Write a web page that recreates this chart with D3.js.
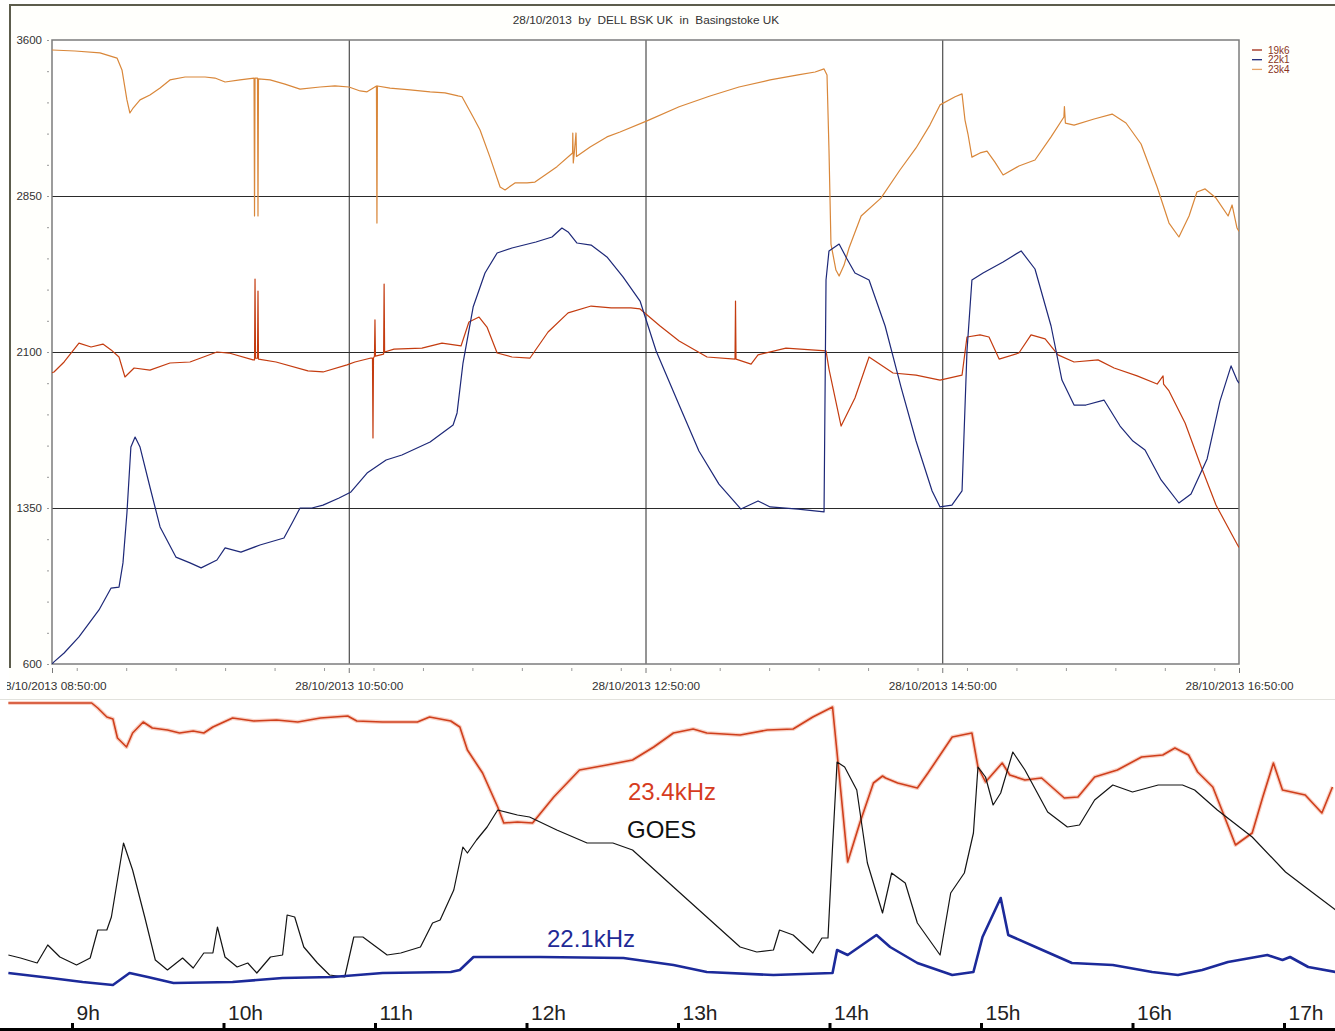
<!DOCTYPE html>
<html>
<head>
<meta charset="utf-8">
<script src="https://cdn.jsdelivr.net/npm/d3@7"></script>
<style>
  body { margin: 0; background: #fff; overflow: hidden; }
  text { font-family: "Liberation Sans", Arial, sans-serif; }
</style>
</head>
<body>
<svg id="chart" width="1335" height="1031"></svg>
<script>
// top panel: minutes after 28/10/2013 08:50:00 , signal level
var startTime = new Date(2013, 9, 28, 8, 50, 0);
var axisLabelTimes = ["08:50", "10:50", "12:50", "14:50", "16:50"];
var levelTicks = [600, 1350, 2100, 2850, 3600];
var seriesNames = ["19k6", "22k1", "23k4"];

var s19k6 = [[0,2000],[0.8,2004],[4.9,2052],[10.9,2143],[15.8,2124],[20.6,2138],[23.9,2110],[27.1,2076],[29.5,1980],
  [33.2,2023],[39.6,2013],[47.7,2047],[55.8,2052],[66.7,2100],[71.6,2095],[81.3,2062],
  [81.9,2062],[82.1,2451],[82.3,2070],[83.1,2070],[83.3,2393],[83.5,2066],
  [90.6,2052],[103.5,2009],[109.6,2004],[119.3,2038],[122.5,2052],[129.0,2071],[129.6,2071],[129.8,1687],[130.0,2071],
  [130.4,2080],[130.6,2254],[130.8,2080],[134.1,2090],[134.3,2427],[134.5,2100],[138.3,2114],[149.6,2119],[157.7,2143],
  [165.4,2129],[168.6,2244],[172.7,2268],[175.9,2220],[180.0,2095],[186.0,2076],[193.3,2071],[200.6,2196],[208.7,2288],
  [218.0,2321],[226.1,2312],[234.1,2312],[237.8,2307],[245.9,2225],[253.6,2153],[264.9,2076],[276.2,2066],[276.4,2345],
  [276.6,2066],[282.7,2042],[285.5,2086],[296.8,2119],[313.0,2105],[314.2,2018],[319.1,1744],[324.7,1879],[330.4,2076],
  [340.1,1999],[349.4,1989],[359.1,1965],[368.0,1989],[370.0,2172],[375.3,2182],[378.9,2172],[383.0,2066],[391.0,2095],
  [395.9,2182],[401.6,2163],[406.8,2086],[413.3,2052],[423.0,2062],[429.5,2023],[438.8,1985],[446.9,1946],[449.3,1985],
  [449.5,1946],[451.7,1913],[458.2,1759],[464.6,1552],[470.7,1364],[479.2,1177],[480,1160]];

var s22k1 = [[0,600],[0.8,610],[4.9,653],[10.9,730],[19.0,860],[23.9,965],[27.1,970],[28.7,1086],[30.3,1326],[31.9,1643],
  [33.6,1691],[35.6,1643],[39.6,1451],[43.7,1259],[50.1,1114],[55.8,1086],[60.3,1062],[66.7,1100],[70.0,1158],[76.4,1138],
  [84.1,1172],[93.8,1206],[97.1,1278],[100.3,1350],[105.1,1350],[109.6,1364],[116.1,1398],[120.9,1427],[127.4,1518],
  [135.1,1581],[141.5,1605],[152.9,1667],[162.2,1749],[163.8,1807],[166.2,2047],[170.3,2316],[175.1,2480],[180.0,2576],
  [186.0,2600],[195.7,2629],[202.2,2653],[206.2,2696],[208.7,2677],[212.3,2624],[218.0,2614],[224.4,2557],[230.9,2461],
  [237.8,2345],[244.3,2105],[253.6,1845],[261.6,1624],[269.7,1465],[278.6,1345],[285.5,1384],[290.4,1355],[301.7,1345],
  [312.2,1331],[313.0,2446],[314.2,2586],[318.3,2619],[321.5,2547],[324.7,2480],[330.4,2446],[336.9,2225],[343.3,1932],
  [349.4,1672],[355.9,1432],[359.1,1355],[363.9,1364],[368.0,1432],[370.0,2105],[372.0,2446],[376.5,2480],[384.6,2533],
  [391.9,2586],[397.5,2499],[404.0,2225],[408.4,1965],[413.3,1845],[418.1,1845],[425.4,1869],[431.9,1744],[437.1,1672],
  [442.0,1629],[448.5,1485],[455.7,1374],[460.6,1417],[467.1,1586],[472.3,1864],[476.8,2033],[479.2,1965],[480,1950]];

var s23k4 = [[0,3552],[9.3,3547],[19.4,3538],[26.3,3513],[28.3,3456],[30.3,3312],[31.5,3249],[32.8,3273],[35.6,3312],
  [39.6,3336],[43.7,3369],[47.7,3408],[53.8,3422],[61.9,3422],[65.9,3417],[70.0,3398],[76.0,3408],[81.7,3417],
  [81.9,2754],[82.1,3417],[83.1,3417],[83.3,2754],[83.5,3413],
  [88.2,3408],[94.2,3388],[100.3,3364],[108.4,3374],[114.4,3379],[120.1,3374],[124.6,3355],[127.4,3351],[131.2,3379],
  [131.4,2720],[131.6,3379],[136.7,3369],[144.8,3360],[152.9,3351],[158.9,3346],[164.2,3331],[165.8,3327],[170.3,3230],
  [173.1,3167],[177.1,3037],[181.2,2893],[183.2,2879],[187.2,2913],[192.1,2913],[195.3,2917],[199.4,2951],[204.2,2991],
  [210.5,3057],[210.6,3153],[210.8,3009],[211.2,3057],[211.9,3153],[212.1,3040],[217.6,3086],[224.4,3134],[229.7,3158],
  [240.6,3211],[253.6,3279],[266.1,3331],[277.8,3374],[290.4,3408],[301.7,3432],[308.6,3446],[312.2,3461],[313.4,3432],
  [314.2,3071],[315.0,2619],[317.0,2494],[318.3,2465],[320.3,2518],[322.3,2600],[327.2,2754],[335.2,2840],[342.9,2975],
  [349.4,3081],[355.0,3191],[359.1,3288],[365.2,3327],[368.0,3341],[369.2,3215],[370.4,3148],[372.0,3037],[375.3,3057],
  [378.1,3066],[381.3,3013],[384.6,2951],[391.0,2994],[397.5,3023],[404.0,3134],[409.2,3230],[409.4,3280],[409.8,3200],
  [413.3,3191],[421.4,3220],[428.7,3244],[434.3,3201],[440.4,3100],[446.9,2893],[451.7,2720],[455.7,2653],[459.8,2754],
  [463.0,2869],[466.3,2884],[470.7,2840],[475.6,2754],[477.2,2807],[479.2,2696],[480,2680]];

// bottom panel: hour of day , relative level (no scale in the picture)
var hourTicks = [9, 10, 11, 12, 13, 14, 15, 16, 17];

var goes = [[8.58,73],[8.66,70],[8.77,65],[8.84,83],[8.92,71],[9.03,63],[9.12,70],[9.17,98],[9.23,98],[9.26,111],
  [9.34,185],[9.40,158],[9.48,111],[9.55,68],[9.63,58],[9.73,70],[9.80,60],[9.87,75],[9.93,75],[9.96,101],[10.01,71],
  [10.09,61],[10.16,65],[10.22,55],[10.31,71],[10.39,73],[10.42,113],[10.47,111],[10.53,81],[10.62,65],[10.70,53],
  [10.80,51],[10.86,91],[10.92,91],[11.08,73],[11.17,75],[11.30,81],[11.38,105],[11.43,108],[11.52,138],[11.58,181],
  [11.61,175],[11.67,188],[11.74,201],[11.81,218],[11.94,213],[12.02,211],[12.20,198],[12.40,185],[12.57,185],[12.70,178],
  [12.97,141],[13.19,111],[13.41,81],[13.52,76],[13.63,78],[13.67,98],[13.76,93],[13.89,75],[13.95,90],[13.99,90],
  [14.02,181],[14.05,266],[14.10,261],[14.18,238],[14.25,165],[14.35,115],[14.41,155],[14.50,145],[14.58,105],[14.73,73],
  [14.80,135],[14.89,155],[14.95,195],[14.98,261],[15.03,251],[15.08,223],[15.13,235],[15.21,276],[15.29,258],[15.44,216],
  [15.57,201],[15.65,203],[15.75,228],[15.87,243],[16.00,236],[16.17,243],[16.33,243],[16.41,238],[16.56,218],[16.79,191],
  [17.01,156],[17.14,141],[17.34,118]];

var khz234 = [[8.58,325],[9.13,325],[9.17,320],[9.23,311],[9.27,309],[9.30,290],[9.36,281],[9.40,295],[9.47,306],
  [9.53,300],[9.63,298],[9.71,295],[9.80,297],[9.87,295],[9.93,301],[10.06,310],[10.20,307],[10.35,308],[10.49,306],
  [10.64,310],[10.82,312],[10.88,307],[11.05,306],[11.28,306],[11.36,311],[11.50,307],[11.56,301],[11.61,278],[11.71,255],
  [11.81,221],[11.85,205],[11.94,206],[12.04,205],[12.18,231],[12.35,258],[12.53,263],[12.70,268],[12.84,281],[12.97,295],
  [13.10,299],[13.19,295],[13.41,293],[13.59,298],[13.76,299],[13.89,311],[14.02,321],[14.05,275],[14.12,166],[14.20,205],
  [14.29,245],[14.35,252],[14.37,250],[14.45,245],[14.58,240],[14.65,255],[14.81,291],[14.94,295],[14.98,261],[15.03,246],
  [15.14,265],[15.19,253],[15.29,248],[15.40,250],[15.55,230],[15.64,231],[15.75,251],[15.90,258],[16.06,271],[16.20,273],
  [16.28,280],[16.37,273],[16.43,256],[16.53,241],[16.59,218],[16.68,183],[16.79,195],[16.86,231],[16.93,265],[16.99,238],
  [17.14,233],[17.25,215],[17.32,241]];

var khz221 = [[8.58,55],[8.86,50],[9.07,46],[9.27,43],[9.38,55],[9.50,51],[9.67,45],[10.06,46],[10.39,50],[10.72,51],
  [11.05,55],[11.50,56],[11.56,58],[11.65,71],[12.09,71],[12.64,70],[12.97,63],[13.19,56],[13.63,53],[14.02,55],[14.05,78],
  [14.12,73],[14.31,93],[14.40,81],[14.58,65],[14.81,53],[14.95,56],[15.01,91],[15.13,130],[15.18,93],[15.36,81],[15.60,65],
  [15.87,63],[16.13,56],[16.30,53],[16.46,58],[16.63,66],[16.89,73],[16.99,68],[17.04,71],[17.16,61],[17.34,56]];

var d3 = window.d3;
var svg = d3.select("#chart");

var margin = { top: 40, left: 52 };
var width = 1187;
var height = 624;
var labelFont = "'Liberation Sans', Arial, sans-serif";

var toDate = function(m) {
  return new Date(startTime.getTime() + m * 60000);
};
var clock = function(s) {
  var p = s.split(":");
  return new Date(2013, 9, 28, +p[0], +p[1], 0);
};

// panel backgrounds / frame
svg.append("rect").attr("x", 9).attr("y", 4).attr("width", 1326).attr("height", 695).attr("fill", "#fffffc");
svg.append("line").attr("x1", 9).attr("x2", 1335).attr("y1", 5).attr("y2", 5)
   .attr("stroke", "#5c5c4c").attr("stroke-width", 2);
svg.append("line").attr("x1", 10).attr("x2", 10).attr("y1", 4).attr("y2", 668)
   .attr("stroke", "#5c5c4c").attr("stroke-width", 2);
svg.append("line").attr("x1", 0).attr("x2", 1335).attr("y1", 699.5).attr("y2", 699.5)
   .attr("stroke", "#e2e2dc").attr("stroke-width", 1);

svg.append("text").attr("x", 646).attr("y", 24).attr("text-anchor", "middle")
   .attr("font-size", 11.8).attr("fill", "#333").style("white-space", "pre")
   .text("28/10/2013  by  DELL BSK UK  in  Basingstoke UK");

svg.append("clipPath").attr("id", "panelclip")
   .append("rect").attr("x", 7).attr("y", 0).attr("width", 1328).attr("height", 700);

var chart = svg.append("g").attr("clip-path", "url(#panelclip)")
   .append("g").attr("transform", "translate(" + margin.left + "," + margin.top + ")");
chart.append("rect").attr("width", width).attr("height", height).attr("fill", "#fff");

var xScale = d3.scaleTime().domain([toDate(0), toDate(480)]).range([0, width]);
var yScale = d3.scaleLinear().domain([600, 3600]).range([height, 0]);

// grid
var labelDates = axisLabelTimes.map(clock);
chart.append("g").attr("class", "grid")
     .call(d3.axisBottom(xScale).tickValues(labelDates.slice(1, -1)).tickSize(height).tickFormat(""))
     .call(function(g) { g.select(".domain").remove(); })
     .selectAll("line").attr("stroke", "#2a2a2a");
chart.append("g").attr("class", "grid")
     .call(d3.axisLeft(yScale).tickValues(levelTicks.slice(1, -1)).tickSize(-width).tickFormat(""))
     .call(function(g) { g.select(".domain").remove(); })
     .selectAll("line").attr("stroke", "#2a2a2a");

chart.append("rect").attr("width", width).attr("height", height)
     .attr("fill", "none").attr("stroke", "#7c7c7c").attr("stroke-width", 1.5);

// x axis
var minorX = d3.timeMinute.every(20).range(toDate(0), toDate(481));
chart.append("g").attr("transform", "translate(0," + (height + 4) + ")")
     .call(d3.axisBottom(xScale).tickValues(minorX).tickSize(3).tickFormat(""))
     .call(function(g) { g.select(".domain").remove(); })
     .selectAll("line").attr("stroke", "#999");
var xAxis = chart.append("g").attr("transform", "translate(0," + (height + 4) + ")")
     .call(d3.axisBottom(xScale).tickValues(labelDates).tickSize(5).tickPadding(9)
           .tickFormat(d3.timeFormat("%d/%m/%Y %H:%M:%S")));
xAxis.select(".domain").remove();
xAxis.selectAll("line").attr("stroke", "#777");
xAxis.selectAll("text").attr("font-size", 11.8).attr("fill", "#333")
     .style("font-family", labelFont);

// y axis
chart.append("g").attr("transform", "translate(-3,0)")
     .call(d3.axisLeft(yScale).tickValues(d3.range(600, 3601, 150)).tickSize(2).tickFormat(""))
     .call(function(g) { g.select(".domain").remove(); })
     .selectAll("line").attr("stroke", "#999");
var yAxis = chart.append("g").attr("transform", "translate(-3,0)")
     .call(d3.axisLeft(yScale).tickValues(levelTicks).tickSize(2).tickPadding(5).tickFormat(d3.format("d")));
yAxis.select(".domain").remove();
yAxis.selectAll("line").attr("stroke", "#999");
yAxis.selectAll("text").attr("font-size", 11.5).attr("fill", "#333")
     .style("font-family", labelFont);

// lines
chart.append("clipPath").attr("id", "plotclip")
     .append("rect").attr("width", width).attr("height", height);

var line = d3.line()
  .x(function(d) { return xScale(toDate(d[0])); })
  .y(function(d) { return yScale(d[1]); });

var topSeries = [
  { key: "23k4", data: s23k4, color: "#d9873a" },
  { key: "19k6", data: s19k6, color: "#c43c10" },
  { key: "22k1", data: s22k1, color: "#1d2878" }
];
chart.append("g").attr("clip-path", "url(#plotclip)")
     .selectAll(".series").data(topSeries, function(d) { return d.key; })
     .enter().append("path").attr("class", "series")
     .attr("d", function(d) { return line(d.data); })
     .attr("fill", "none").attr("stroke", function(d) { return d.color; })
     .attr("stroke-width", 1.2).attr("stroke-linejoin", "round");

// legend
var legendColors = { "19k6": "#a02812", "22k1": "#1d2878", "23k4": "#e7a468" };
var legend = svg.append("g").attr("transform", "translate(1252,50)");
seriesNames.forEach(function(n, i) {
  legend.append("line").attr("x1", 0).attr("x2", 10).attr("y1", i * 9.7).attr("y2", i * 9.7)
        .attr("stroke", legendColors[n]).attr("stroke-width", 1.3);
  legend.append("text").attr("x", 16).attr("y", i * 9.7 + 3.6).attr("font-size", 10)
        .attr("fill", "#8a3424").text(n);
});

// bottom panel
var bx = d3.scaleLinear().domain([9, 17]).range([72, 72 + 8 * 151.5]);
var by = d3.scaleLinear().domain([0, 330]).range([1028, 698]);
var bline = d3.line()
  .x(function(d) { return bx(d[0]); })
  .y(function(d) { return by(d[1]); });

var bottom = svg.append("g");
bottom.append("path").attr("d", bline(khz234)).attr("fill", "none")
      .attr("stroke", "#f9d2c6").attr("stroke-width", 4).attr("stroke-linejoin", "round");
bottom.append("path").attr("d", bline(khz234)).attr("fill", "none")
      .attr("stroke", "#cf3f1c").attr("stroke-width", 1.6).attr("stroke-linejoin", "round");
bottom.append("path").attr("d", bline(goes)).attr("fill", "none")
      .attr("stroke", "#141414").attr("stroke-width", 1.2).attr("stroke-linejoin", "round");
bottom.append("path").attr("d", bline(khz221)).attr("fill", "none")
      .attr("stroke", "#1c2a9a").attr("stroke-width", 2.6).attr("stroke-linejoin", "round");

bottom.append("text").attr("x", 628).attr("y", 800).attr("font-size", 24).attr("fill", "#d63c1e").text("23.4kHz");
bottom.append("text").attr("x", 627).attr("y", 838).attr("font-size", 24).attr("fill", "#111").text("GOES");
bottom.append("text").attr("x", 547).attr("y", 947).attr("font-size", 24).attr("fill", "#1f2a96").text("22.1kHz");

bottom.append("line").attr("x1", 0).attr("x2", 1335).attr("y1", 1029.5).attr("y2", 1029.5)
      .attr("stroke", "#000").attr("stroke-width", 3);
var hourAxis = bottom.append("g").attr("transform", "translate(0,1028)")
      .call(d3.axisTop(bx).tickValues(hourTicks).tickSize(5).tickPadding(0)
            .tickFormat(function(d) { return d + "h"; }));
hourAxis.select(".domain").remove();
hourAxis.selectAll("line").attr("stroke", "#000").attr("stroke-width", 3);
hourAxis.selectAll("text").attr("text-anchor", "start").attr("dx", 4).attr("y", -8)
        .attr("font-size", 21).attr("fill", "#222")
        .style("font-family", labelFont);
</script>
</body>
</html>
